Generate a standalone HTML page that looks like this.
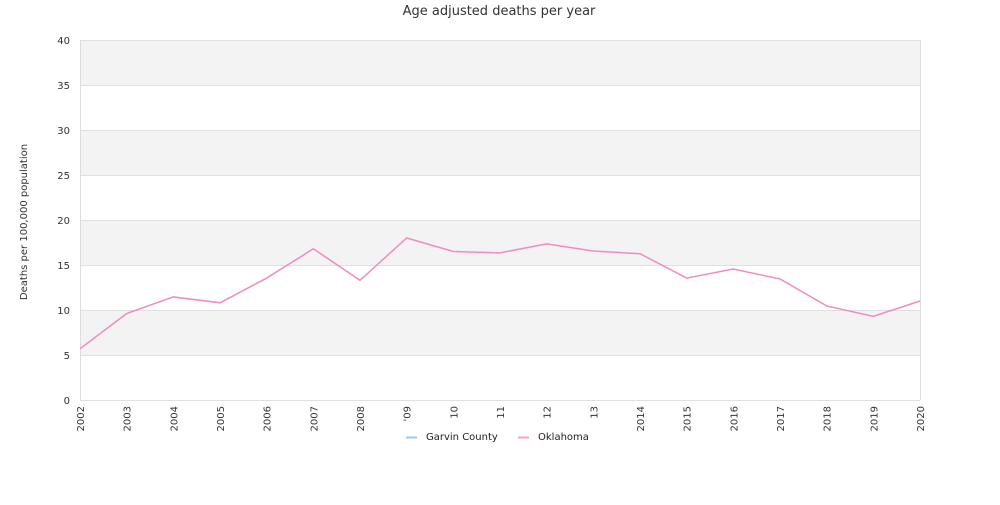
<!DOCTYPE html>
<html><head><meta charset="utf-8"><style>
body{margin:0;background:#fff;font-family:"Liberation Sans","DejaVu Sans",sans-serif}
svg text{font-family:"DejaVu Sans","Liberation Sans",sans-serif}
</style></head><body>
<svg id="c" width="1000" height="500" xmlns="http://www.w3.org/2000/svg">
<text x="499" y="15" text-anchor="middle" font-size="13" fill="#333">Age adjusted deaths per year</text>
<text transform="translate(27,222) rotate(-90)" text-anchor="middle" font-size="10" fill="#333">Deaths per 100,000 population</text>
<g id="bands"></g><g id="grid"></g><g id="yt"></g><g id="xt"></g><g id="series"></g>
<g>
<line x1="406" y1="437.5" x2="417" y2="437.5" stroke="#9ecae9" stroke-width="2"/>
<text x="426" y="440" font-size="10" fill="#222">Garvin County</text>
<line x1="518" y1="437.5" x2="529" y2="437.5" stroke="#f4a3c8" stroke-width="2"/>
<text x="538" y="440" font-size="10" fill="#222">Oklahoma</text>
</g>
</svg>
<script>
const categories=["2002","2003","2004","2005","2006","2007","2008","'09","10","11","12","13","2014","2015","2016","2017","2018","2019","2020"];
const oklahoma=[5.7,9.6,11.45,10.8,13.55,16.8,13.3,18,16.5,16.35,17.35,16.55,16.25,13.55,14.55,13.45,10.45,9.3,11];
const yTicks=[0,5,10,15,20,25,30,35,40];
const NS="http://www.w3.org/2000/svg";
const L=80,R=920,T=40,B=400,yMax=40;
const xs=i=>L+i*(R-L)/(categories.length-1);
const ys=v=>B-v/yMax*(B-T);
function mk(tag,attrs,parent){const e=document.createElementNS(NS,tag);for(const k in attrs)e.setAttribute(k,attrs[k]);document.getElementById(parent).appendChild(e);return e;}
for(let i=0;i<yTicks.length-1;i++){
 if(i%2===1){const r=mk('rect',{x:L,y:ys(yTicks[i+1]),width:R-L,height:ys(yTicks[i])-ys(yTicks[i+1]),fill:'#f3f3f3'},'bands');
 
 }
}
yTicks.forEach(v=>{
 const l=mk('line',{x1:L,x2:R,y1:ys(v)+0.5,y2:ys(v)+0.5,stroke:'#e0e0e0'},'grid');
 
 
 const t=mk('text',{x:70,y:ys(v)+4,'text-anchor':'end','font-size':10,fill:'#333'},'yt');
 t.textContent=v;
 
 
});
const bl=mk('line',{x1:L+0.5,x2:L+0.5,y1:T,y2:B,stroke:'#ddd'},'grid');


const br=mk('line',{x1:R+0.5,x2:R+0.5,y1:T,y2:B,stroke:'#ddd'},'grid');


categories.forEach((c,i)=>{
 const t=mk('text',{transform:`translate(${xs(i)+4},406) rotate(-90)`,'text-anchor':'end','font-size':10,fill:'#333'},'xt');
 t.textContent=c;
 
 
});
const p=mk('polyline',{points:oklahoma.map((v,i)=>xs(i)+','+ys(v)).join(' '),fill:'none',stroke:'#f08cbf','stroke-width':1.5},'series');


</script>
</body></html>
